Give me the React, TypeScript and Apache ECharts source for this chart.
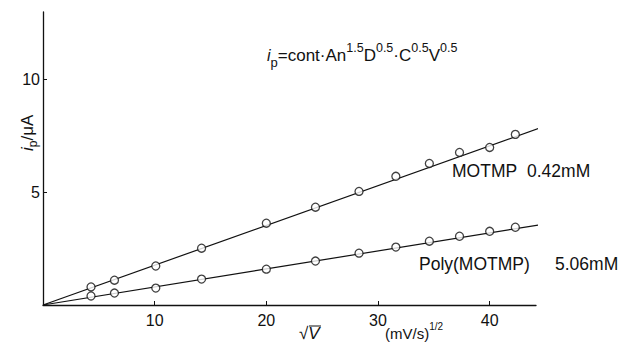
import React, { useEffect, useRef } from "react";
import * as echarts from "echarts";

const sqrtV = [4.3, 6.4, 10.1, 14.2, 20.0, 24.4, 28.3, 31.6, 34.6, 37.3, 40.0, 42.3];
const motmp = [0.8, 1.1, 1.73, 2.52, 3.63, 4.34, 5.04, 5.71, 6.28, 6.77, 6.99, 7.57];
const poly = [0.4, 0.53, 0.75, 1.15, 1.59, 1.95, 2.3, 2.57, 2.83, 3.05, 3.27, 3.45];
const motmpFit = [[0, 0], [45.1, 7.96]];
const polyFit = [[0, 0], [45.9, 3.67]];
const xTicks = [10, 20, 30, 40];
const yTicks = [5, 10];

const FONT = "Liberation Sans";

export default function App() {
  const ref = useRef<HTMLDivElement>(null);
  useEffect(() => {
    if (!ref.current) return;
    const chart = echarts.init(ref.current, null, { renderer: "svg" });
    const pts = (ys: number[]) => sqrtV.map((x, i) => [x, ys[i]]);
    const axisStyle = { lineStyle: { color: "#111", width: 1.3 } };
    const label = (text: string, x: number, y: number) => ({
      type: "text",
      x,
      y,
      style: { text, fontFamily: FONT, fontSize: 17.5, fill: "#111", letterSpacing: 0.9 },
    });
    chart.setOption({
      animation: false,
      backgroundColor: "#fff",
      grid: { left: 43, right: 91, top: 12, bottom: 38, containLabel: false },
      xAxis: {
        type: "value",
        min: 0,
        max: 44.15,
        interval: 10,
        axisLine: axisStyle,
        axisTick: { show: true, inside: true, length: 4, lineStyle: { color: "#111" }, customValues: xTicks },
        axisLabel: {
          customValues: xTicks,
          color: "#111",
          fontFamily: FONT,
          fontSize: 16,
          margin: 7,
        },
        splitLine: { show: false },
      },
      yAxis: {
        type: "value",
        min: 0,
        max: 13,
        interval: 5,
        axisLine: { show: true, ...axisStyle },
        axisTick: { show: true, inside: true, length: 4, lineStyle: { color: "#111" }, customValues: yTicks },
        axisLabel: {
          customValues: yTicks,
          color: "#111",
          fontFamily: FONT,
          fontSize: 16,
          margin: 3,
        },
        splitLine: { show: false },
      },
      series: [
        {
          type: "line",
          data: motmpFit,
          showSymbol: false,
          clip: false,
          lineStyle: { color: "#111", width: 1.2 },
          z: 2,
        },
        {
          type: "line",
          data: polyFit,
          showSymbol: false,
          clip: false,
          lineStyle: { color: "#111", width: 1.2 },
          z: 2,
        },
        {
          type: "scatter",
          data: pts(motmp),
          symbol: "circle",
          symbolSize: 8,
          itemStyle: { color: "#fff", borderColor: "#111", borderWidth: 1.3 },
          z: 3,
        },
        {
          type: "scatter",
          data: pts(poly),
          symbol: "circle",
          symbolSize: 8,
          itemStyle: { color: "#fff", borderColor: "#111", borderWidth: 1.3 },
          z: 3,
        },
      ],
      graphic: [
        {
          type: "text",
          x: 267,
          y: 41,
          style: {
            text: "{i|i}{s|p}{t|=cont·An}{u|1.5}{t|D}{u|0.5}{t|·C}{u|0.5}{t|V}{u|0.5}",
            fontFamily: FONT,
            fill: "#111",
            rich: {
              i: { fontSize: 16, fontStyle: "italic", fontFamily: FONT, lineHeight: 28, verticalAlign: "middle", fill: "#111" },
              t: { fontSize: 17, fontFamily: FONT, lineHeight: 28, verticalAlign: "middle", fill: "#111" },
              u: { fontSize: 12.5, fontFamily: FONT, lineHeight: 12, verticalAlign: "top", fill: "#111" },
              s: { fontSize: 13, fontFamily: FONT, lineHeight: 13, verticalAlign: "bottom", fill: "#111" },
            },
          },
        },
        {
          type: "text",
          x: 15,
          y: 151,
          rotation: Math.PI / 2,
          style: {
            text: "{i|i}{s|p}{t|/μA}",
            fill: "#111",
            rich: {
              i: { fontSize: 17, fontStyle: "italic", fontFamily: FONT, lineHeight: 24, verticalAlign: "middle", fill: "#111" },
              t: { fontSize: 17, fontFamily: FONT, lineHeight: 24, verticalAlign: "middle", fill: "#111" },
              s: { fontSize: 12, fontFamily: FONT, lineHeight: 12, verticalAlign: "bottom", fill: "#111" },
            },
          },
        },
        label("MOTMP", 452, 162),
        label("0.42mM", 527, 162),
        label("Poly(MOTMP)", 419, 255),
        label("5.06mM", 555, 255),
        {
          type: "text",
          x: 299,
          y: 325,
          style: { text: "√V", fontFamily: FONT, fontSize: 17, fontStyle: "italic", fill: "#111" },
        },
        {
          type: "line",
          shape: { x1: 309, y1: 326, x2: 321, y2: 326 },
          style: { stroke: "#111", lineWidth: 1 },
        },
        {
          type: "text",
          x: 385,
          y: 321,
          style: {
            text: "{t|(mV/s)}{u|1/2}",
            fill: "#111",
            rich: {
              t: { fontSize: 15, fontFamily: FONT, lineHeight: 20, verticalAlign: "bottom", fill: "#111" },
              u: { fontSize: 10, fontFamily: FONT, lineHeight: 10, verticalAlign: "top", fill: "#111" },
            },
          },
        },
      ],
    });
    return () => chart.dispose();
  }, []);
  return <div ref={ref} style={{ width: 627, height: 343, position: "absolute", left: 0, top: 0 }} />;
}
